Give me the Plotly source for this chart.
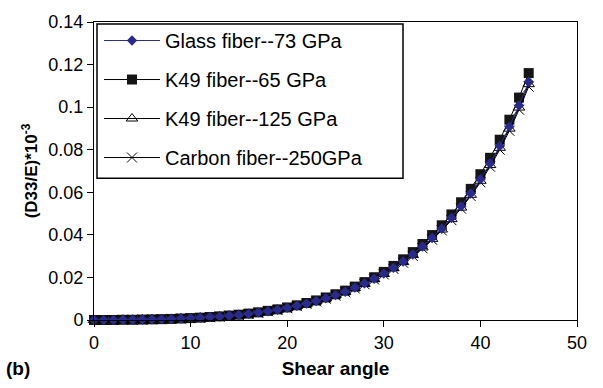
import plotly.graph_objects as go

shear_angle = list(range(0, 46))

glass_73 = [0, 0, 0, 0.0001, 0.0001, 0.0002, 0.0003, 0.0004, 0.0005, 0.0007, 0.0009, 0.0011, 0.0014, 0.0016,
            0.0020, 0.0024, 0.0029, 0.0035, 0.0041, 0.0048, 0.0057, 0.0067, 0.0077, 0.0089, 0.0102, 0.0117,
            0.0133, 0.0152, 0.0172, 0.0194, 0.0218, 0.0245, 0.0275, 0.0308, 0.0345, 0.0385, 0.0429, 0.0479,
            0.0534, 0.0594, 0.0661, 0.0735, 0.0817, 0.0908, 0.1008, 0.1119]
k49_65 = [0, 0, 0, 0.0001, 0.0001, 0.0002, 0.0003, 0.0004, 0.0005, 0.0007, 0.0009, 0.0011, 0.0014, 0.0017,
          0.0021, 0.0025, 0.0030, 0.0036, 0.0043, 0.0050, 0.0059, 0.0069, 0.0080, 0.0092, 0.0106, 0.0121,
          0.0138, 0.0157, 0.0178, 0.0201, 0.0226, 0.0254, 0.0285, 0.0319, 0.0357, 0.0399, 0.0445, 0.0496,
          0.0553, 0.0616, 0.0685, 0.0762, 0.0847, 0.0941, 0.1045, 0.1160]
k49_125 = [0, 0, 0, 0.0001, 0.0001, 0.0002, 0.0003, 0.0004, 0.0005, 0.0007, 0.0009, 0.0011, 0.0013, 0.0016,
           0.0020, 0.0024, 0.0029, 0.0034, 0.0041, 0.0048, 0.0056, 0.0066, 0.0076, 0.0088, 0.0101, 0.0116,
           0.0132, 0.0150, 0.0170, 0.0192, 0.0216, 0.0243, 0.0272, 0.0305, 0.0341, 0.0381, 0.0425, 0.0474,
           0.0528, 0.0588, 0.0654, 0.0728, 0.0809, 0.0899, 0.0998, 0.1108]
carbon_250 = [0, 0, 0, 0.0001, 0.0001, 0.0002, 0.0003, 0.0004, 0.0005, 0.0007, 0.0009, 0.0010, 0.0013, 0.0016,
              0.0020, 0.0024, 0.0028, 0.0034, 0.0041, 0.0047, 0.0056, 0.0065, 0.0076, 0.0087, 0.0100, 0.0114,
              0.0130, 0.0148, 0.0168, 0.0190, 0.0214, 0.0240, 0.0269, 0.0301, 0.0337, 0.0377, 0.0421, 0.0469,
              0.0523, 0.0582, 0.0647, 0.0720, 0.0800, 0.0889, 0.0988, 0.1096]

names = ["Glass fiber--73 GPa", "K49 fiber--65 GPa", "K49 fiber--125 GPa", "Carbon fiber--250GPa"]

FONT = "Liberation Sans, Arial, sans-serif"
NAVY = "#2a2a8c"

fig = go.Figure()
fig.add_trace(go.Scatter(x=shear_angle, y=k49_65, name=names[1], mode="lines+markers", legendrank=2,
                         legendgroup="b", line=dict(color="black", width=1),
                         marker=dict(symbol="square", size=10, color="#151515"), cliponaxis=False))
fig.add_trace(go.Scatter(x=shear_angle, y=k49_125, name=names[2], mode="lines+markers", legendrank=3,
                         legendgroup="c", line=dict(color="black", width=1),
                         marker=dict(symbol="triangle-up-open", size=10, color="black", line=dict(width=1)),
                         cliponaxis=False))
fig.add_trace(go.Scatter(x=shear_angle, y=carbon_250, name=names[3], mode="lines+markers", legendrank=4,
                         legendgroup="d", line=dict(color="black", width=1),
                         marker=dict(symbol="x-thin-open", size=10, color="black", line=dict(width=1, color="black")),
                         cliponaxis=False))
fig.add_trace(go.Scatter(x=shear_angle, y=glass_73, name=names[0], mode="lines+markers", legendrank=1,
                         legendgroup="a", line=dict(color=NAVY, width=1),
                         marker=dict(symbol="diamond", size=8, color=NAVY), cliponaxis=False))

# legend frame (paper coords of the plot area 94..577 x, 17..322 y)
def px_x(p):
    return (p - 94) / 483.0

def px_y(p):
    return (322 - p) / 305.0

fig.update_layout(
    width=603, height=388,
    margin=dict(l=94, r=26, t=17, b=66),
    paper_bgcolor="white", plot_bgcolor="white",
    font=dict(family=FONT, size=18, color="black"),
    legend=dict(x=px_x(99), y=px_y(16), xanchor="left", yanchor="top",
                borderwidth=0, bgcolor="rgba(0,0,0,0)",
                font=dict(size=20), tracegroupgap=10, itemwidth=56,
                traceorder="grouped"),
    shapes=[dict(type="rect", xref="paper", yref="paper",
                 x0=px_x(97), x1=px_x(403), y0=px_y(177), y1=px_y(19),
                 line=dict(color="black", width=1.5), fillcolor="white", layer="below")],
    xaxis=dict(range=[0, 50], tickvals=[0, 10, 20, 30, 40, 50], showgrid=False, zeroline=False,
               showline=True, linecolor="black", linewidth=1, mirror=True,
               ticks="outside", ticklen=6, tickcolor="black", tickfont=dict(size=18),
               title=dict(text="<b>Shear angle</b>", font=dict(size=19), standoff=10)),
    yaxis=dict(range=[0, 0.14], tickvals=[0, 0.02, 0.04, 0.06, 0.08, 0.1, 0.12, 0.14],
               ticktext=["0", "0.02", "0.04", "0.06", "0.08", "0.1", "0.12", "0.14"],
               showgrid=False, zeroline=False,
               showline=True, linecolor="black", linewidth=1, mirror=True,
               ticks="outside", ticklen=6, tickcolor="black", tickfont=dict(size=18),
               title=dict(text="<b>(D33/E)*10<sup>-3</sup></b>", font=dict(size=17), standoff=6)),
    annotations=[dict(text="<b>(b)</b>", xref="paper", yref="paper", x=px_x(4), y=px_y(372),
                      xanchor="left", yanchor="middle", showarrow=False, font=dict(size=19))],
)

fig.write_html("out.html")
